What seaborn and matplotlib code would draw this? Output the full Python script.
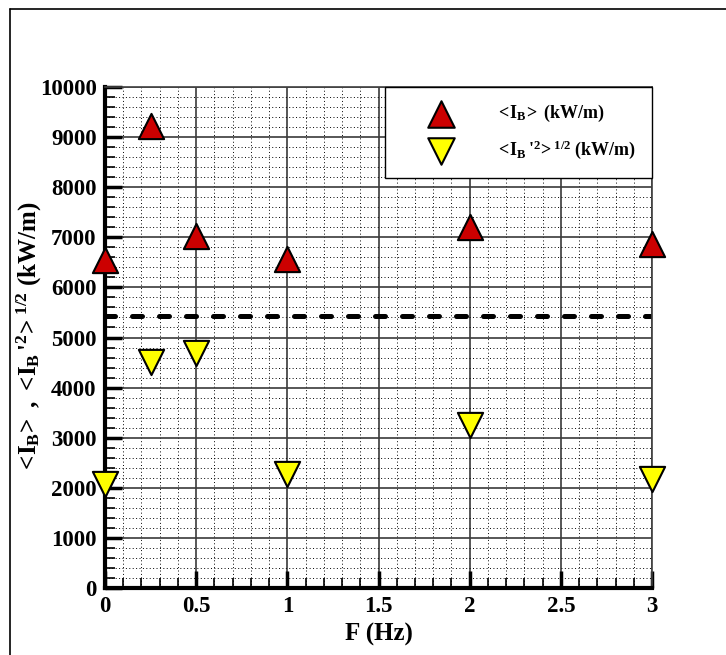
import numpy as np
import pandas as pd
import seaborn as sns
import matplotlib.pyplot as plt
from matplotlib.lines import Line2D
from matplotlib.ticker import MultipleLocator, FormatStrFormatter

# values
freq = [0, 0.25, 0.5, 1, 2, 3]
ib_mean = [6550, 9220, 7030, 6570, 7215, 6865]
ib_rms = [2080, 4510, 4700, 2270, 3250, 2180]
ref_level = 5430

df = pd.DataFrame({'F': freq, 'mean': ib_mean, 'rms': ib_rms})

sns.set_style('white')
plt.rcParams['font.family'] = ['Liberation Serif', 'DejaVu Serif']
plt.rcParams['font.weight'] = 'bold'
plt.rcParams['text.color'] = 'black'
plt.rcParams['axes.labelcolor'] = 'black'
plt.rcParams['xtick.color'] = 'black'
plt.rcParams['ytick.color'] = 'black'
plt.rcParams['mathtext.fontset'] = 'custom'
plt.rcParams['mathtext.rm'] = 'Liberation Serif:bold'
plt.rcParams['mathtext.it'] = 'Liberation Serif:bold'
plt.rcParams['mathtext.bf'] = 'Liberation Serif:bold'

fig = plt.figure(figsize=(7.26, 6.55), dpi=100)
ax = fig.add_axes([105/726, 1-588/655, (652-105)/726, (588-87)/655])

# minor dotted grid, major solid grid
ax.xaxis.set_major_locator(MultipleLocator(0.5))
ax.xaxis.set_minor_locator(MultipleLocator(0.1))
ax.yaxis.set_major_locator(MultipleLocator(1000))
ax.yaxis.set_minor_locator(MultipleLocator(200))
ax.grid(which='minor', color='black', linestyle=(0, (1, 2.5)), linewidth=0.7)
ax.grid(which='major', color='#3a3a3a', linestyle='-', linewidth=1.2)
ax.set_axisbelow(True)

ax.axhline(ref_level, color='black', linestyle=(0, (2.0, 3.4)), linewidth=3.6,
           dash_capstyle='round', zorder=2)

sns.scatterplot(data=df, x='F', y='mean', marker='^', s=330, color='#cc0000',
                edgecolor='black', linewidth=1.5, clip_on=False, zorder=5,
                ax=ax, label=r'$<\!I_B\!>$ (kW/m)')
sns.scatterplot(data=df, x='F', y='rms', marker='v', s=330, color='#ffff00',
                edgecolor='black', linewidth=1.5, clip_on=False, zorder=5,
                ax=ax, label=r"$<\!I_B\,'^2\!>^{1/2}$ (kW/m)")

ax.set_xlim(0, 3)
ax.set_ylim(0, 10000)
ax.xaxis.set_major_formatter(FormatStrFormatter('%g'))

ax.tick_params(which='major', direction='in', length=12, width=2.5,
               labelsize=16.5, pad=6, left=True, bottom=True)
ax.tick_params(which='minor', direction='in', length=7, width=1.2,
               left=True, bottom=True)
for lab in ax.get_xticklabels() + ax.get_yticklabels():
    lab.set_fontweight('bold')

for side in ['left', 'bottom']:
    ax.spines[side].set_linewidth(3)
    ax.spines[side].set_color('black')
for side in ['top', 'right']:
    ax.spines[side].set_linewidth(1.2)
    ax.spines[side].set_color('#404040')

ax.set_xlabel('F (Hz)', fontsize=18, fontweight='bold', labelpad=4)
ax.set_ylabel(r"$<\!I_B\!>$ , $<\!I_B\,'^2\!>^{1/2}$ (kW/m)",
              fontsize=18, fontweight='bold')
ax.yaxis.set_label_coords(-0.112, 0.5)

leg = ax.legend(loc='upper right', borderaxespad=0, fontsize=13,
                frameon=True, fancybox=False, framealpha=1,
                edgecolor='black', borderpad=0.9, handletextpad=0.8,
                labelspacing=0.8, handlelength=4.4, markerscale=1.05)
leg.get_frame().set_linewidth(1.0)
leg.set_zorder(10)

# outer frame lines
fig.add_artist(Line2D([10/726, 10/726], [0, 1-9/655], color='black', linewidth=1.2))
fig.add_artist(Line2D([10/726, 1], [1-9/655, 1-9/655], color='black', linewidth=1.2))

fig.savefig('out.png', dpi=100)
